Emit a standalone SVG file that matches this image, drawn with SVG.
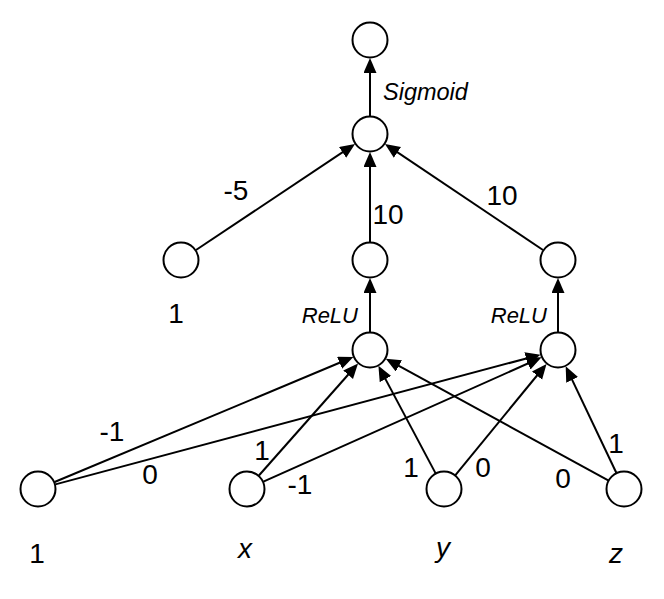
<svg xmlns="http://www.w3.org/2000/svg" width="664" height="599" viewBox="0 0 664 599">
<style>
.node{fill:#fff;stroke:#000;stroke-width:2}
.edge{fill:none;stroke:#000;stroke-width:2;marker-end:url(#ah)}
.lbl{font-family:"Liberation Sans",Arial,sans-serif;font-size:28px;fill:#000;text-anchor:middle}
.fn{font-family:"Liberation Sans",Arial,sans-serif;font-size:22px;font-style:italic;fill:#000}
.it{font-style:italic}
</style>
<defs>
<marker id="ah" markerUnits="userSpaceOnUse" markerWidth="16" markerHeight="14" refX="11" refY="6.5" orient="auto" viewBox="0 0 16 14">
<path d="M0,0 L15,6.5 L0,13 z" fill="#000"/>
</marker>
</defs>
<rect width="664" height="599" fill="#fff"/>
<g id="connectors">
<line class="edge" x1="370" y1="116" x2="370" y2="62"/>
<line class="edge" x1="196" y1="250" x2="351.7" y2="146.2"/>
<line class="edge" x1="370" y1="242" x2="370" y2="156"/>
<line class="edge" x1="543" y1="250" x2="388.3" y2="146.2"/>
<line class="edge" x1="370" y1="332" x2="370" y2="282"/>
<line class="edge" x1="558" y1="332" x2="558" y2="282"/>
<line class="edge" x1="54.6" y1="482" x2="349.7" y2="358.5"/>
<line class="edge" x1="55.4" y1="484.4" x2="536.7" y2="355.7"/>
<line class="edge" x1="258.9" y1="475.5" x2="355.4" y2="366.5"/>
<line class="edge" x1="263.4" y1="481.7" x2="537.9" y2="359"/>
<line class="edge" x1="435.5" y1="473.1" x2="380.3" y2="369.4"/>
<line class="edge" x1="455.4" y1="475.1" x2="544" y2="367"/>
<line class="edge" x1="608.2" y1="480.4" x2="389.3" y2="360.6"/>
<line class="edge" x1="616.3" y1="472.7" x2="567.4" y2="369.9"/>
</g>
<g id="n-out"><circle class="node" cx="370" cy="40" r="17.5"/></g>
<g id="n-sig"><circle class="node" cx="370" cy="134" r="17.5"/></g>
<g id="n-bias2"><circle class="node" cx="181" cy="260" r="17.5"/><text class="lbl" x="176" y="323">1</text></g>
<g id="n-h1"><circle class="node" cx="370" cy="260" r="17.5"/></g>
<g id="n-h2"><circle class="node" cx="558" cy="260" r="17.5"/></g>
<g id="n-r1"><circle class="node" cx="370" cy="350" r="17.5"/></g>
<g id="n-r2"><circle class="node" cx="558" cy="350" r="17.5"/></g>
<g id="n-in1"><circle class="node" cx="38" cy="489" r="17.5"/><text class="lbl" x="37" y="563">1</text></g>
<g id="n-x"><circle class="node" cx="247" cy="489" r="17.5"/><text class="lbl it" x="245" y="558">x</text></g>
<g id="n-y"><circle class="node" cx="444" cy="489" r="17.5"/><text class="lbl it" x="443" y="557">y</text></g>
<g id="n-z"><circle class="node" cx="624" cy="489" r="17.5"/><text class="lbl it" x="616" y="563">z</text></g>
<g id="labels">
<text class="fn" x="383" y="100" style="font-size:23.5px">Sigmoid</text>
<text class="fn" x="358" y="323" text-anchor="end">ReLU</text>
<text class="fn" x="547" y="323" text-anchor="end">ReLU</text>
<text class="lbl" x="236" y="200">-5</text>
<text class="lbl" x="388" y="224">10</text>
<text class="lbl" x="502" y="205">10</text>
<text class="lbl" x="112" y="441">-1</text>
<text class="lbl" x="150" y="484">0</text>
<text class="lbl" x="262" y="460">1</text>
<text class="lbl" x="300" y="494">-1</text>
<text class="lbl" x="411" y="477">1</text>
<text class="lbl" x="483" y="477">0</text>
<text class="lbl" x="563" y="488">0</text>
<text class="lbl" x="616" y="453">1</text>
</g>
</svg>
